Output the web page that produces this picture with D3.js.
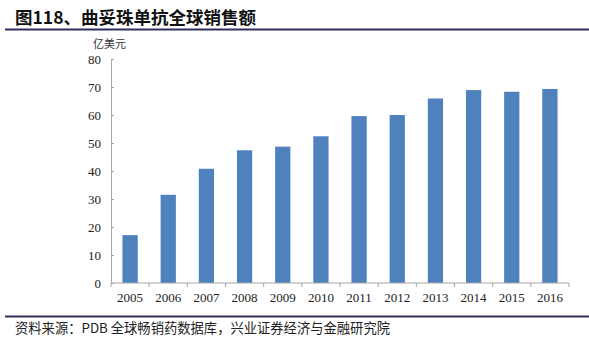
<!DOCTYPE html>
<html>
<head>
<meta charset="utf-8">
<script src="https://cdn.jsdelivr.net/npm/d3@7"></script>
<style>
  html, body { margin: 0; padding: 0; background: #fff; }
  svg { display: block; }
</style>
</head>
<body>
<svg id="chart" width="589" height="341"></svg>
<script>
// Trastuzumab global sales, 100 million USD
const years = ["2005","2006","2007","2008","2009","2010","2011","2012","2013","2014","2015","2016"];
const sales = [17.1, 31.5, 40.8, 47.4, 48.7, 52.4, 59.6, 60.0, 65.9, 68.9, 68.3, 69.3];
const yTicks = [0, 10, 20, 30, 40, 50, 60, 70, 80];

const titleText = "图118、曲妥珠单抗全球销售额";
const unitText = "亿美元";
const sourceText = "资料来源：PDB 全球畅销药数据库，兴业证券经济与金融研究院";

const svg = d3.select("#chart");
const cjk = "'Noto Sans CJK SC', 'Noto Sans', sans-serif";
const serif = "'Liberation Serif', 'DejaVu Serif', serif";

// Header
svg.append("text")
  .attr("x", 15).attr("y", 24)
  .attr("font-family", cjk).attr("font-weight", "bold")
  .attr("font-size", 17.5).attr("fill", "#111")
  .text(titleText);
svg.append("line")
  .attr("x1", 5).attr("x2", 589).attr("y1", 29.5).attr("y2", 29.5)
  .attr("stroke", "#2e2f5a").attr("stroke-width", 2);

// Plot area
const x0 = 111, x1 = 569, yTop = 59, yBot = 283;
const x = d3.scaleBand().domain(years).range([x0, x1]).paddingInner(0.6).paddingOuter(0.3);
const y = d3.scaleLinear().domain([0, 80]).range([yBot, yTop]);

svg.append("g").selectAll("rect")
  .data(years.map((yr, i) => ({yr, v: sales[i]})))
  .join("rect")
  .attr("x", d => x(d.yr))
  .attr("width", x.bandwidth())
  .attr("y", d => y(d.v))
  .attr("height", d => y(0) - y(d.v))
  .attr("fill", "#4f81bd");

// Y axis: ticks point inward
const yAxis = svg.append("g").attr("transform", `translate(${x0},0)`)
  .call(d3.axisLeft(y).tickValues(yTicks).tickSizeInner(-3).tickSizeOuter(-3).tickPadding(10));
yAxis.select(".domain").attr("stroke", "#a6a6a6");
yAxis.selectAll(".tick line").attr("stroke", "#a6a6a6");
yAxis.selectAll(".tick text")
  .attr("font-family", serif).attr("font-size", 13).attr("fill", "#222");

// X axis: tick marks at category boundaries
const xAxisG = svg.append("g").attr("transform", `translate(0,${yBot})`);
xAxisG.append("line")
  .attr("x1", x0).attr("x2", x1).attr("stroke", "#a6a6a6");
const bounds = d3.range(years.length + 1).map(i => x0 + i * (x1 - x0) / years.length);
xAxisG.selectAll("line.tk").data(bounds).join("line").attr("class", "tk")
  .attr("x1", d => d).attr("x2", d => d).attr("y1", 0).attr("y2", 4)
  .attr("stroke", "#a6a6a6");
xAxisG.selectAll("text").data(years).join("text")
  .attr("x", d => x(d) + x.bandwidth() / 2)
  .attr("y", 19)
  .attr("text-anchor", "middle")
  .attr("font-family", serif).attr("font-size", 13).attr("fill", "#222")
  .text(d => d);

// Unit label
svg.append("text")
  .attr("x", 93).attr("y", 48)
  .attr("font-family", cjk).attr("font-size", 11).attr("fill", "#333")
  .text(unitText);

// Footer
svg.append("line")
  .attr("x1", 5).attr("x2", 589).attr("y1", 316.5).attr("y2", 316.5)
  .attr("stroke", "#2e2f5a").attr("stroke-width", 2);
svg.append("text")
  .attr("x", 15).attr("y", 333)
  .attr("font-family", cjk).attr("font-size", 13.3).attr("fill", "#222")
  .text(sourceText);
</script>
</body>
</html>
